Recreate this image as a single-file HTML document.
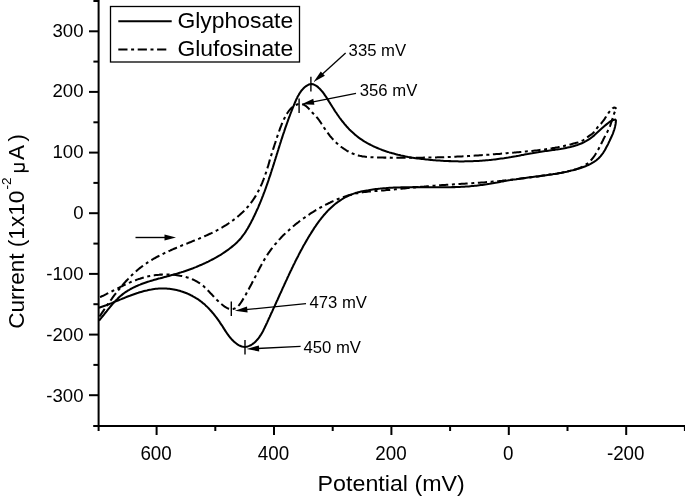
<!DOCTYPE html>
<html><head><meta charset="utf-8"><title>Cyclic voltammogram</title>
<style>
html,body{margin:0;padding:0;background:#fff;}
body{width:685px;height:499px;overflow:hidden;}
svg{display:block;filter:grayscale(1);}
text{font-family:"Liberation Sans",sans-serif;fill:#000;}
</style></head><body>
<svg width="685" height="499" viewBox="0 0 685 499">
<rect width="685" height="499" fill="#fff"/>
<g stroke="#000" stroke-width="2" fill="none">
<line x1="98.6" x2="98.6" y1="0" y2="427"/>
<line x1="93.2" x2="685" y1="425.9" y2="425.9"/>
<line x1="89" x2="98.6" y1="395.2" y2="395.2"/><line x1="93.4" x2="98.6" y1="364.9" y2="364.9"/><line x1="89" x2="98.6" y1="334.6" y2="334.6"/><line x1="93.4" x2="98.6" y1="304.2" y2="304.2"/><line x1="89" x2="98.6" y1="273.9" y2="273.9"/><line x1="93.4" x2="98.6" y1="243.6" y2="243.6"/><line x1="89" x2="98.6" y1="213.2" y2="213.2"/><line x1="93.4" x2="98.6" y1="182.9" y2="182.9"/><line x1="89" x2="98.6" y1="152.6" y2="152.6"/><line x1="93.4" x2="98.6" y1="122.3" y2="122.3"/><line x1="89" x2="98.6" y1="91.9" y2="91.9"/><line x1="93.4" x2="98.6" y1="61.6" y2="61.6"/><line x1="89" x2="98.6" y1="31.3" y2="31.3"/><line x1="93.4" x2="98.6" y1="1.0" y2="1.0"/><line y1="426" y2="431" x1="684.9" x2="684.9"/><line y1="426" y2="435" x1="626.2" x2="626.2"/><line y1="426" y2="431" x1="567.5" x2="567.5"/><line y1="426" y2="435" x1="508.8" x2="508.8"/><line y1="426" y2="431" x1="450.1" x2="450.1"/><line y1="426" y2="435" x1="391.4" x2="391.4"/><line y1="426" y2="431" x1="332.7" x2="332.7"/><line y1="426" y2="435" x1="274.0" x2="274.0"/><line y1="426" y2="431" x1="215.3" x2="215.3"/><line y1="426" y2="435" x1="156.6" x2="156.6"/><line y1="426" y2="431" x1="98.6" x2="98.6"/>
</g>
<g font-size="18.6"><text x="83.5" y="36.6" text-anchor="end">300</text><text x="83.5" y="97.4" text-anchor="end">200</text><text x="83.5" y="158.2" text-anchor="end">100</text><text x="83.5" y="219.1" text-anchor="end">0</text><text x="83.5" y="279.9" text-anchor="end">-100</text><text x="83.5" y="340.7" text-anchor="end">-200</text><text x="83.5" y="401.5" text-anchor="end">-300</text><g transform="translate(156.1,460.3) scale(0.96,1)"><text font-size="19.6" text-anchor="middle">600</text></g><g transform="translate(273.5,460.3) scale(0.96,1)"><text font-size="19.6" text-anchor="middle">400</text></g><g transform="translate(390.9,460.3) scale(0.96,1)"><text font-size="19.6" text-anchor="middle">200</text></g><g transform="translate(508.3,460.3) scale(0.96,1)"><text font-size="19.6" text-anchor="middle">0</text></g><g transform="translate(625.7,460.3) scale(0.96,1)"><text font-size="19.6" text-anchor="middle">-200</text></g></g>
<g transform="translate(391.2,490.5) scale(1.02,1)"><text font-size="22.8" text-anchor="middle">Potential (mV)</text></g>
<text transform="translate(23.5,328.8) rotate(-90)" font-size="22.6">Current (1x10</text>
<text transform="translate(11.4,189.6) rotate(-90)" font-size="13.6">-2</text>
<g stroke="#000" fill="none" stroke-width="1.7"><path d="M14 171.2H28.7"/><path d="M14 164.2H24.4"/><path d="M20.5 171C25 170.6 25.2 165.2 22.2 164.4" stroke-width="1.5"/></g>
<text transform="translate(23.5,160) rotate(-90)" font-size="22.6">A</text>
<text transform="translate(23.5,141.6) rotate(-90)" font-size="22.6">)</text>
<rect x="110.5" y="6.5" width="189" height="55.5" fill="#fff" stroke="#000" stroke-width="1.3"/>
<line x1="118.3" x2="171.7" y1="21.3" y2="21.3" stroke="#000" stroke-width="2"/>
<line x1="118.3" x2="167" y1="49.5" y2="49.5" stroke="#000" stroke-width="2" stroke-dasharray="9.2 3.6 3 3.6"/>
<g transform="translate(177.4,28.2) scale(1.07,1)"><text font-size="21.4">Glyphosate</text></g>
<g transform="translate(177.4,55.8) scale(1.07,1)"><text font-size="21.4">Glufosinate</text></g>
<g fill="none" stroke="#000" stroke-width="2.05" stroke-linejoin="round">
<path d="M99.0 320.6L100.0 319.5L100.9 318.3L101.9 317.1L102.8 316.0L103.8 314.8L104.7 313.6L105.6 312.5L106.6 311.3L107.5 310.1L108.5 308.9L109.4 307.8L110.4 306.6L111.3 305.5L112.3 304.4L113.3 303.2L114.3 302.1L115.4 301.0L116.4 299.9L117.5 298.9L118.5 297.8L119.6 296.8L120.8 295.8L121.9 294.9L123.1 293.9L124.3 293.0L125.5 292.2L126.8 291.3L128.0 290.5L129.3 289.8L130.6 289.0L131.9 288.3L133.3 287.6L134.6 287.0L136.0 286.3L137.4 285.7L138.7 285.1L140.1 284.6L141.5 284.0L142.9 283.5L144.4 283.0L145.8 282.5L147.2 282.0L148.6 281.6L150.1 281.1L151.5 280.7L152.9 280.3L154.4 279.8L155.8 279.4L157.3 279.0L158.7 278.6L160.2 278.3L161.6 277.9L163.1 277.5L164.5 277.1L166.0 276.7L167.4 276.3L168.9 275.9L170.3 275.5L171.8 275.1L173.2 274.7L174.6 274.3L176.1 273.9L177.5 273.5L179.0 273.0L180.4 272.6L181.8 272.1L183.2 271.7L184.7 271.2L186.1 270.7L187.5 270.2L188.9 269.7L190.3 269.2L191.7 268.7L193.1 268.2L194.5 267.6L195.9 267.1L197.3 266.5L198.7 265.9L200.1 265.3L201.5 264.7L202.8 264.1L204.2 263.5L205.6 262.9L206.9 262.2L208.3 261.6L209.6 260.9L211.0 260.2L212.3 259.5L213.6 258.8L214.9 258.1L216.2 257.4L217.5 256.6L218.8 255.8L220.1 255.1L221.4 254.3L222.6 253.5L223.9 252.6L225.1 251.8L226.4 250.9L227.6 250.1L228.8 249.2L230.0 248.3L231.2 247.4L232.4 246.4L233.5 245.5L234.7 244.5L235.8 243.5L236.9 242.5L237.9 241.4L239.0 240.3L240.0 239.2L241.0 238.1L241.9 236.9L242.8 235.7L243.7 234.5L244.6 233.3L245.4 232.1L246.2 230.8L247.0 229.5L247.8 228.2L248.5 226.9L249.3 225.6L250.0 224.3L250.7 223.0L251.4 221.6L252.1 220.3L252.8 219.0L253.4 217.6L254.1 216.3L254.7 214.9L255.4 213.6L256.0 212.2L256.6 210.8L257.2 209.5L257.9 208.1L258.5 206.7L259.0 205.3L259.6 204.0L260.2 202.6L260.8 201.2L261.3 199.8L261.9 198.4L262.4 197.0L263.0 195.6L263.5 194.2L264.0 192.8L264.6 191.4L265.1 190.0L265.6 188.6L266.1 187.2L266.6 185.7L267.1 184.3L267.6 182.9L268.1 181.5L268.6 180.1L269.0 178.6L269.5 177.2L270.0 175.8L270.5 174.4L270.9 172.9L271.4 171.5L271.8 170.1L272.3 168.7L272.8 167.2L273.2 165.8L273.7 164.4L274.1 162.9L274.6 161.5L275.0 160.1L275.5 158.6L275.9 157.2L276.4 155.8L276.8 154.3L277.3 152.9L277.7 151.5L278.2 150.1L278.6 148.6L279.1 147.2L279.5 145.8L280.0 144.3L280.4 142.9L280.9 141.5L281.3 140.0L281.8 138.6L282.3 137.2L282.7 135.8L283.2 134.3L283.7 132.9L284.2 131.5L284.6 130.1L285.1 128.6L285.6 127.2L286.1 125.8L286.6 124.4L287.1 123.0L287.6 121.6L288.1 120.2L288.6 118.7L289.1 117.3L289.7 115.9L290.2 114.5L290.7 113.1L291.3 111.7L291.8 110.3L292.4 108.9L292.9 107.5L293.5 106.1L294.1 104.8L294.6 103.4L295.2 102.0L295.8 100.6L296.4 99.2L297.1 97.9L297.7 96.5L298.5 95.2L299.2 93.9L300.0 92.7L300.9 91.4L301.8 90.2L302.8 89.1L303.8 88.0L304.9 87.0L306.1 86.1L307.4 85.3L308.7 84.6L310.2 84.2L311.6 84.1L313.1 84.3L314.5 84.9L315.9 85.6L317.1 86.4L318.3 87.4L319.4 88.4L320.4 89.5L321.4 90.6L322.4 91.7L323.3 92.9L324.2 94.1L325.0 95.4L325.9 96.6L326.7 97.8L327.5 99.1L328.3 100.4L329.1 101.7L329.9 102.9L330.7 104.2L331.5 105.5L332.3 106.8L333.1 108.0L333.9 109.3L334.7 110.6L335.5 111.8L336.4 113.0L337.2 114.3L338.1 115.5L338.9 116.7L339.8 118.0L340.7 119.2L341.6 120.4L342.5 121.5L343.5 122.7L344.4 123.9L345.4 125.0L346.4 126.2L347.4 127.3L348.4 128.4L349.4 129.5L350.5 130.5L351.6 131.6L352.7 132.6L353.8 133.6L354.9 134.6L356.1 135.5L357.3 136.5L358.4 137.4L359.7 138.3L360.9 139.1L362.1 139.9L363.4 140.8L364.7 141.6L366.0 142.3L367.3 143.1L368.6 143.8L369.9 144.5L371.2 145.2L372.6 145.9L373.9 146.5L375.3 147.1L376.7 147.7L378.0 148.3L379.4 148.9L380.8 149.4L382.2 150.0L383.6 150.5L385.1 151.0L386.5 151.5L387.9 151.9L389.3 152.4L390.8 152.8L392.2 153.2L393.7 153.6L395.1 154.0L396.6 154.4L398.0 154.8L399.5 155.1L400.9 155.5L402.4 155.8L403.9 156.1L405.3 156.4L406.8 156.7L408.3 157.0L409.8 157.2L411.3 157.5L412.7 157.7L414.2 157.9L415.7 158.2L417.2 158.4L418.7 158.6L420.2 158.8L421.6 159.0L423.1 159.1L424.6 159.3L426.1 159.5L427.6 159.6L429.1 159.8L430.6 159.9L432.1 160.0L433.6 160.2L435.1 160.3L436.6 160.4L438.1 160.5L439.6 160.6L441.1 160.7L442.6 160.8L444.1 160.9L445.6 161.0L447.1 161.0L448.6 161.1L450.1 161.1L451.6 161.2L453.1 161.2L454.6 161.3L456.1 161.3L457.6 161.3L459.1 161.4L460.6 161.4L462.1 161.4L463.6 161.4L465.1 161.3L466.6 161.3L468.1 161.3L469.6 161.3L471.1 161.2L472.6 161.2L474.1 161.1L475.6 161.0L477.1 161.0L478.6 160.9L480.1 160.8L481.6 160.7L483.1 160.6L484.6 160.5L486.1 160.3L487.6 160.2L489.0 160.1L490.5 159.9L492.0 159.7L493.5 159.6L495.0 159.4L496.5 159.2L498.0 159.0L499.5 158.8L501.0 158.6L502.4 158.4L503.9 158.2L505.4 157.9L506.9 157.7L508.4 157.5L509.9 157.2L511.3 157.0L512.8 156.7L514.3 156.4L515.8 156.2L517.2 155.9L518.7 155.7L520.2 155.4L521.7 155.1L523.2 154.9L524.6 154.6L526.1 154.3L527.6 154.1L529.1 153.8L530.5 153.5L532.0 153.3L533.5 153.0L535.0 152.8L536.5 152.5L537.9 152.3L539.4 152.0L540.9 151.8L542.4 151.5L543.9 151.3L545.3 151.1L546.8 150.9L548.3 150.7L549.8 150.5L551.3 150.3L552.8 150.1L554.3 149.9L555.8 149.6L557.2 149.4L558.7 149.2L560.2 149.0L561.7 148.7L563.2 148.5L564.6 148.2L566.1 147.9L567.6 147.6L569.1 147.3L570.5 147.0L572.0 146.6L573.4 146.2L574.9 145.8L576.3 145.3L577.7 144.9L579.1 144.3L580.5 143.8L581.9 143.2L583.3 142.6L584.6 141.9L585.9 141.2L587.2 140.4L588.5 139.6L589.7 138.8L591.0 137.9L592.2 137.0L593.3 136.1L594.5 135.1L595.6 134.1L596.7 133.1L597.8 132.1L598.9 131.1L600.0 130.1L601.1 129.1L602.2 128.1L603.4 127.0L604.5 126.0L605.6 125.1L606.8 124.1L607.9 123.2L609.1 122.3L610.4 121.4L611.7 120.7L613.1 120.1L614.5 119.7L616.0 119.5"/>
<path d="M616.0 119.5L615.9 121.0L615.8 122.5L615.6 124.0L615.3 125.5L615.0 126.9L614.6 128.4L614.2 129.8L613.7 131.2L613.2 132.7L612.7 134.1L612.1 135.4L611.5 136.8L610.8 138.2L610.2 139.5L609.6 140.9L608.9 142.3L608.3 143.6L607.6 145.0L606.9 146.3L606.2 147.6L605.5 148.9L604.8 150.2L604.0 151.5L603.2 152.8L602.3 154.0L601.4 155.2L600.5 156.4L599.4 157.5L598.4 158.5L597.2 159.5L596.1 160.5L594.8 161.3L593.6 162.2L592.3 162.9L591.0 163.7L589.7 164.4L588.3 165.0L586.9 165.6L585.5 166.2L584.1 166.7L582.7 167.2L581.3 167.7L579.9 168.2L578.4 168.6L577.0 169.1L575.6 169.5L574.1 169.9L572.7 170.3L571.2 170.6L569.7 171.0L568.3 171.3L566.8 171.7L565.4 172.0L563.9 172.3L562.4 172.6L560.9 172.9L559.5 173.1L558.0 173.4L556.5 173.7L555.0 173.9L553.5 174.1L552.0 174.4L550.6 174.6L549.1 174.8L547.6 175.0L546.1 175.2L544.6 175.4L543.1 175.6L541.6 175.8L540.1 176.0L538.7 176.2L537.2 176.4L535.7 176.6L534.2 176.8L532.7 177.0L531.2 177.1L529.7 177.3L528.2 177.5L526.7 177.7L525.3 177.9L523.8 178.1L522.3 178.3L520.8 178.5L519.3 178.7L517.8 178.9L516.3 179.2L514.8 179.4L513.4 179.6L511.9 179.8L510.4 180.1L508.9 180.3L507.4 180.6L505.9 180.8L504.5 181.1L503.0 181.4L501.5 181.6L500.0 181.9L498.6 182.2L497.1 182.5L495.6 182.7L494.1 183.0L492.7 183.3L491.2 183.5L489.7 183.8L488.2 184.0L486.7 184.3L485.2 184.5L483.8 184.7L482.3 184.9L480.8 185.1L479.3 185.3L477.8 185.5L476.3 185.7L474.8 185.8L473.3 186.0L471.8 186.1L470.3 186.2L468.8 186.4L467.3 186.5L465.8 186.6L464.3 186.7L462.8 186.7L461.3 186.8L459.8 186.9L458.3 186.9L456.8 187.0L455.3 187.1L453.8 187.1L452.3 187.1L450.8 187.2L449.3 187.2L447.8 187.2L446.3 187.2L444.8 187.2L443.3 187.2L441.8 187.3L440.3 187.3L438.8 187.3L437.3 187.3L435.8 187.2L434.3 187.2L432.8 187.2L431.3 187.2L429.8 187.2L428.3 187.2L426.8 187.2L425.3 187.2L423.8 187.2L422.3 187.2L420.8 187.2L419.3 187.2L417.8 187.1L416.3 187.1L414.8 187.1L413.3 187.1L411.8 187.2L410.3 187.2L408.8 187.2L407.3 187.2L405.8 187.2L404.3 187.2L402.8 187.3L401.3 187.3L399.8 187.4L398.3 187.4L396.8 187.5L395.3 187.5L393.8 187.6L392.3 187.7L390.8 187.8L389.3 187.8L387.8 187.9L386.3 188.1L384.8 188.2L383.3 188.3L381.8 188.4L380.3 188.6L378.8 188.7L377.3 188.9L375.8 189.1L374.3 189.3L372.8 189.5L371.4 189.7L369.9 189.9L368.4 190.2L366.9 190.4L365.4 190.7L364.0 191.0L362.5 191.3L361.0 191.6L359.6 191.9L358.1 192.3L356.7 192.7L355.2 193.1L353.8 193.6L352.4 194.1L351.0 194.7L349.6 195.2L348.2 195.9L346.9 196.5L345.5 197.2L344.2 197.9L342.9 198.7L341.6 199.5L340.4 200.3L339.1 201.1L337.9 202.0L336.7 202.9L335.5 203.8L334.3 204.7L333.2 205.7L332.1 206.7L331.0 207.7L329.9 208.7L328.8 209.8L327.7 210.9L326.7 212.0L325.7 213.1L324.7 214.2L323.7 215.3L322.8 216.5L321.8 217.6L320.9 218.8L320.0 220.0L319.1 221.2L318.2 222.4L317.3 223.6L316.4 224.9L315.6 226.1L314.7 227.3L313.9 228.6L313.1 229.9L312.3 231.1L311.5 232.4L310.7 233.7L309.9 234.9L309.1 236.2L308.3 237.5L307.6 238.8L306.8 240.1L306.1 241.4L305.3 242.7L304.6 244.0L303.8 245.3L303.1 246.6L302.4 247.9L301.7 249.3L300.9 250.6L300.2 251.9L299.5 253.2L298.8 254.6L298.2 255.9L297.5 257.2L296.8 258.6L296.1 259.9L295.4 261.3L294.8 262.6L294.1 264.0L293.4 265.3L292.8 266.7L292.1 268.0L291.5 269.4L290.8 270.7L290.2 272.1L289.5 273.4L288.9 274.8L288.3 276.1L287.6 277.5L287.0 278.9L286.4 280.2L285.7 281.6L285.1 283.0L284.5 284.3L283.9 285.7L283.2 287.1L282.6 288.4L282.0 289.8L281.4 291.2L280.8 292.5L280.1 293.9L279.5 295.3L278.9 296.6L278.3 298.0L277.7 299.4L277.0 300.7L276.4 302.1L275.8 303.5L275.2 304.8L274.6 306.2L273.9 307.6L273.3 308.9L272.7 310.3L272.1 311.7L271.4 313.0L270.8 314.4L270.2 315.8L269.6 317.1L268.9 318.5L268.3 319.9L267.7 321.2L267.1 322.6L266.4 324.0L265.8 325.3L265.1 326.7L264.5 328.0L263.8 329.4L263.2 330.7L262.5 332.0L261.7 333.4L261.0 334.6L260.1 335.9L259.3 337.1L258.4 338.3L257.4 339.5L256.4 340.6L255.4 341.7L254.3 342.7L253.1 343.6L251.9 344.5L250.6 345.3L249.2 345.9L247.8 346.4L246.3 346.8L244.9 346.9L243.4 346.8L241.9 346.5L240.5 346.0L239.1 345.3L237.8 344.6L236.6 343.7L235.4 342.8L234.2 341.9L233.1 340.8L232.1 339.8L231.1 338.6L230.1 337.5L229.2 336.3L228.3 335.1L227.4 333.9L226.6 332.7L225.7 331.4L224.9 330.1L224.1 328.9L223.3 327.6L222.5 326.3L221.7 325.1L220.8 323.8L220.0 322.6L219.2 321.3L218.3 320.1L217.4 318.9L216.5 317.7L215.6 316.5L214.7 315.3L213.8 314.1L212.8 313.0L211.8 311.8L210.8 310.7L209.8 309.6L208.8 308.5L207.7 307.4L206.7 306.4L205.6 305.4L204.5 304.3L203.3 303.4L202.2 302.4L201.0 301.5L199.8 300.6L198.6 299.7L197.3 298.9L196.0 298.1L194.8 297.3L193.4 296.6L192.1 295.8L190.8 295.2L189.4 294.5L188.1 293.9L186.7 293.3L185.3 292.7L183.9 292.2L182.5 291.7L181.0 291.3L179.6 290.8L178.2 290.4L176.7 290.1L175.2 289.8L173.8 289.5L172.3 289.2L170.8 289.0L169.3 288.8L167.8 288.7L166.3 288.5L164.8 288.5L163.3 288.4L161.8 288.4L160.3 288.5L158.8 288.6L157.3 288.7L155.8 288.8L154.3 289.0L152.8 289.2L151.4 289.5L149.9 289.7L148.4 290.0L146.9 290.4L145.5 290.7L144.0 291.1L142.6 291.5L141.1 291.9L139.7 292.3L138.3 292.8L136.8 293.2L135.4 293.7L134.0 294.2L132.6 294.7L131.2 295.2L129.8 295.8L128.4 296.3L127.0 296.8L125.6 297.4L124.2 298.0L122.8 298.5L121.4 299.1L120.0 299.6L118.6 300.2L117.2 300.8L115.8 301.4L114.4 301.9L113.1 302.5L111.7 303.1L110.3 303.6L108.9 304.2L107.5 304.7L106.1 305.3L104.7 305.8L103.3 306.3L101.8 306.8L100.4 307.3L99.0 307.8"/>
<path d="M99.0 317.4L99.8 316.1L100.7 314.9L101.5 313.6L102.3 312.4L103.2 311.1L104.0 309.9L104.9 308.7L105.7 307.4L106.6 306.2L107.4 304.9L108.3 303.7L109.1 302.5L110.0 301.3L110.9 300.0L111.8 298.8L112.6 297.6L113.5 296.4L114.4 295.2L115.3 294.0L116.3 292.8L117.2 291.6L118.1 290.4L119.1 289.3L120.0 288.1L121.0 286.9L121.9 285.8L122.9 284.6L123.9 283.5L124.9 282.4L125.9 281.3L126.9 280.2L128.0 279.1L129.0 278.0L130.1 276.9L131.1 275.9L132.2 274.8L133.3 273.8L134.4 272.8L135.5 271.8L136.7 270.8L137.8 269.8L139.0 268.8L140.1 267.9L141.3 267.0L142.5 266.1L143.7 265.2L144.9 264.3L146.2 263.5L147.4 262.6L148.7 261.8L150.0 261.0L151.2 260.2L152.5 259.5L153.8 258.7L155.1 258.0L156.5 257.2L157.8 256.5L159.1 255.8L160.5 255.1L161.8 254.5L163.1 253.8L164.5 253.1L165.9 252.5L167.2 251.9L168.6 251.2L170.0 250.6L171.3 250.0L172.7 249.4L174.1 248.8L175.5 248.2L176.9 247.6L178.2 247.1L179.6 246.5L181.0 245.9L182.4 245.3L183.8 244.8L185.2 244.2L186.6 243.7L188.0 243.1L189.4 242.5L190.8 242.0L192.2 241.4L193.6 240.8L195.0 240.3L196.3 239.7L197.7 239.1L199.1 238.6L200.5 238.0L201.9 237.4L203.3 236.8L204.6 236.2L206.0 235.6L207.4 235.0L208.8 234.3L210.1 233.7L211.5 233.1L212.8 232.4L214.2 231.7L215.5 231.1L216.9 230.4L218.2 229.7L219.5 228.9L220.8 228.2L222.1 227.5L223.4 226.7L224.7 225.9L226.0 225.1L227.2 224.3L228.5 223.5L229.8 222.7L231.0 221.8L232.2 220.9L233.4 220.0L234.6 219.1L235.8 218.2L237.0 217.3L238.1 216.3L239.3 215.3L240.4 214.3L241.5 213.3L242.6 212.3L243.7 211.2L244.7 210.1L245.7 209.0L246.8 207.9L247.8 206.8L248.7 205.7L249.7 204.5L250.6 203.3L251.5 202.1L252.4 200.9L253.2 199.7L254.1 198.4L254.9 197.1L255.7 195.9L256.4 194.6L257.2 193.3L257.9 191.9L258.6 190.6L259.3 189.3L259.9 187.9L260.6 186.6L261.2 185.2L261.8 183.8L262.4 182.4L262.9 181.0L263.5 179.6L264.0 178.2L264.6 176.8L265.1 175.4L265.5 174.0L266.0 172.6L266.5 171.1L266.9 169.7L267.4 168.3L267.8 166.8L268.3 165.4L268.7 164.0L269.1 162.5L269.5 161.1L269.9 159.6L270.4 158.2L270.8 156.7L271.2 155.3L271.7 153.9L272.1 152.4L272.6 151.0L273.0 149.6L273.5 148.1L274.0 146.7L274.4 145.3L274.9 143.8L275.4 142.4L275.8 141.0L276.3 139.6L276.8 138.1L277.2 136.7L277.7 135.3L278.2 133.9L278.7 132.4L279.2 131.0L279.7 129.6L280.2 128.2L280.7 126.8L281.3 125.4L281.8 124.0L282.4 122.6L283.0 121.2L283.6 119.9L284.3 118.5L285.0 117.2L285.7 115.8L286.4 114.5L287.2 113.3L288.1 112.0L288.9 110.8L289.9 109.6L290.9 108.5L292.0 107.5L293.2 106.6L294.4 105.7L295.8 105.0L297.1 104.5L298.6 104.1L300.1 103.9L301.6 104.0L303.0 104.4L304.4 105.0L305.6 105.8L306.8 106.8L307.9 107.8L309.0 108.9L310.0 110.0L311.0 111.1L312.0 112.2L313.0 113.3L314.1 114.4L315.1 115.5L316.2 116.6L317.2 117.7L318.1 118.8L319.0 120.0L319.9 121.3L320.7 122.5L321.5 123.8L322.3 125.0L323.2 126.3L324.0 127.6L324.8 128.8L325.6 130.1L326.5 131.3L327.4 132.5L328.3 133.7L329.2 134.9L330.1 136.1L331.1 137.2L332.1 138.4L333.1 139.5L334.1 140.6L335.2 141.6L336.3 142.7L337.4 143.7L338.5 144.7L339.7 145.6L340.9 146.6L342.1 147.5L343.3 148.3L344.5 149.2L345.8 150.0L347.1 150.8L348.4 151.5L349.7 152.2L351.1 152.8L352.5 153.5L353.9 154.0L355.3 154.5L356.7 155.0L358.1 155.4L359.6 155.8L361.1 156.1L362.5 156.4L364.0 156.6L365.5 156.8L367.0 157.0L368.5 157.1L370.0 157.2L371.5 157.3L373.0 157.3L374.5 157.4L376.0 157.4L377.5 157.4L379.0 157.5L380.5 157.5L382.0 157.5L383.5 157.6L385.0 157.6L386.5 157.6L388.0 157.6L389.5 157.6L391.0 157.7L392.6 157.7L394.1 157.7L395.6 157.7L397.1 157.7L398.6 157.7L400.1 157.7L401.6 157.7L403.1 157.8L404.6 157.8L406.1 157.8L407.6 157.8L409.1 157.8L410.6 157.8L412.1 157.7L413.6 157.7L415.1 157.7L416.6 157.7L418.1 157.7L419.6 157.7L421.1 157.7L422.6 157.7L424.1 157.6L425.6 157.6L427.1 157.6L428.6 157.6L430.1 157.5L431.6 157.5L433.1 157.5L434.6 157.4L436.1 157.4L437.6 157.3L439.1 157.3L440.6 157.3L442.1 157.2L443.6 157.2L445.1 157.1L446.7 157.1L448.2 157.0L449.7 156.9L451.2 156.9L452.7 156.8L454.2 156.7L455.7 156.7L457.2 156.6L458.7 156.5L460.2 156.5L461.7 156.4L463.2 156.3L464.7 156.2L466.2 156.1L467.7 156.1L469.2 156.0L470.7 155.9L472.2 155.8L473.7 155.7L475.2 155.6L476.7 155.5L478.2 155.4L479.7 155.3L481.2 155.2L482.7 155.1L484.2 155.0L485.7 154.9L487.2 154.8L488.7 154.7L490.2 154.6L491.7 154.4L493.2 154.3L494.7 154.2L496.2 154.1L497.7 154.0L499.2 153.9L500.7 153.7L502.1 153.6L503.6 153.5L505.1 153.4L506.6 153.2L508.1 153.1L509.6 153.0L511.1 152.8L512.6 152.7L514.1 152.6L515.6 152.4L517.1 152.3L518.6 152.2L520.1 152.0L521.6 151.9L523.1 151.8L524.6 151.6L526.1 151.5L527.6 151.3L529.1 151.2L530.6 151.0L532.1 150.9L533.6 150.7L535.1 150.5L536.6 150.4L538.1 150.2L539.6 150.0L541.0 149.8L542.5 149.7L544.0 149.5L545.5 149.3L547.0 149.0L548.5 148.8L550.0 148.6L551.5 148.4L552.9 148.1L554.4 147.9L555.9 147.6L557.4 147.4L558.9 147.1L560.3 146.8L561.8 146.5L563.3 146.2L564.7 145.8L566.2 145.5L567.7 145.2L569.1 144.8L570.6 144.4L572.0 144.0L573.5 143.6L574.9 143.2L576.4 142.8L577.8 142.4L579.2 141.9L580.7 141.4L582.0 140.8L583.4 140.1L584.6 139.3L585.8 138.4L587.0 137.5L588.2 136.6L589.5 135.7L590.7 134.9L591.9 134.0L593.1 133.0L594.1 131.9L595.0 130.7L595.9 129.5L596.8 128.3L597.7 127.1L598.8 126.0L599.8 125.0L600.9 123.9L601.8 122.7L602.7 121.5L603.6 120.3L604.5 119.1L605.3 117.8L606.1 116.6L606.9 115.3L607.8 114.1L608.6 112.8L609.5 111.6L610.5 110.5L611.5 109.4L612.6 108.3L613.9 107.6L615.3 107.8L616.5 108.8" stroke-dasharray="9.2 3.55 3 3.58" stroke-dashoffset="18.3"/>
<path d="M616.5 108.8L615.7 110.1L615.1 111.4L614.4 112.8L613.9 114.2L613.4 115.6L612.9 117.0L612.5 118.5L612.0 119.9L611.6 121.4L611.1 122.8L610.7 124.2L610.2 125.6L609.6 127.0L609.0 128.4L608.4 129.8L607.7 131.1L607.0 132.5L606.3 133.8L605.6 135.1L604.9 136.4L604.2 137.8L603.5 139.1L602.9 140.5L602.2 141.8L601.5 143.2L600.9 144.5L600.2 145.9L599.5 147.2L598.8 148.5L598.1 149.9L597.4 151.2L596.6 152.5L595.8 153.7L595.0 155.0L594.2 156.2L593.3 157.5L592.3 158.6L591.4 159.8L590.3 160.9L589.3 161.9L588.1 162.9L587.0 163.9L585.7 164.7L584.5 165.5L583.2 166.3L581.8 167.0L580.4 167.6L579.1 168.2L577.6 168.7L576.2 169.2L574.8 169.6L573.3 170.0L571.9 170.4L570.4 170.8L569.0 171.1L567.5 171.5L566.0 171.8L564.6 172.1L563.1 172.4L561.6 172.7L560.1 172.9L558.7 173.2L557.2 173.5L555.7 173.7L554.2 173.9L552.7 174.2L551.2 174.4L549.7 174.6L548.3 174.8L546.8 175.1L545.3 175.3L543.8 175.5L542.3 175.7L540.8 175.9L539.3 176.2L537.9 176.4L536.4 176.6L534.9 176.8L533.4 177.0L531.9 177.2L530.4 177.4L528.9 177.6L527.4 177.8L525.9 178.0L524.4 178.2L523.0 178.4L521.5 178.6L520.0 178.8L518.5 179.0L517.0 179.1L515.5 179.3L514.0 179.5L512.5 179.7L511.0 179.8L509.5 180.0L508.0 180.2L506.5 180.3L505.0 180.5L503.5 180.6L502.0 180.8L500.5 180.9L499.0 181.1L497.6 181.2L496.1 181.4L494.6 181.5L493.1 181.6L491.6 181.8L490.1 181.9L488.6 182.0L487.1 182.1L485.6 182.2L484.1 182.4L482.6 182.5L481.1 182.6L479.6 182.7L478.1 182.8L476.6 182.9L475.1 183.0L473.6 183.1L472.1 183.2L470.6 183.3L469.1 183.4L467.6 183.5L466.1 183.6L464.6 183.7L463.1 183.8L461.6 183.8L460.1 183.9L458.6 184.0L457.1 184.1L455.6 184.2L454.1 184.3L452.6 184.4L451.1 184.5L449.6 184.6L448.1 184.7L446.6 184.8L445.1 184.9L443.6 185.0L442.1 185.1L440.6 185.2L439.1 185.3L437.6 185.4L436.1 185.6L434.6 185.7L433.1 185.8L431.6 185.9L430.1 186.0L428.6 186.2L427.1 186.3L425.6 186.4L424.1 186.6L422.6 186.7L421.1 186.8L419.6 187.0L418.1 187.1L416.6 187.3L415.1 187.4L413.6 187.6L412.1 187.7L410.6 187.8L409.1 188.0L407.6 188.1L406.1 188.3L404.6 188.4L403.1 188.6L401.6 188.7L400.1 188.9L398.6 189.0L397.1 189.2L395.6 189.3L394.2 189.4L392.7 189.6L391.2 189.7L389.7 189.9L388.2 190.0L386.7 190.1L385.2 190.3L383.7 190.4L382.2 190.5L380.7 190.6L379.2 190.7L377.7 190.9L376.2 191.0L374.7 191.1L373.2 191.2L371.7 191.4L370.2 191.5L368.7 191.6L367.2 191.8L365.7 192.0L364.2 192.1L362.7 192.3L361.2 192.6L359.7 192.8L358.3 193.1L356.8 193.3L355.3 193.6L353.8 194.0L352.4 194.3L350.9 194.7L349.5 195.1L348.0 195.5L346.6 196.0L345.2 196.4L343.8 196.9L342.3 197.4L340.9 198.0L339.5 198.5L338.1 199.0L336.7 199.6L335.3 200.2L334.0 200.8L332.6 201.4L331.2 202.0L329.9 202.7L328.5 203.3L327.2 204.0L325.8 204.7L324.5 205.4L323.2 206.1L321.8 206.8L320.5 207.5L319.2 208.2L317.9 209.0L316.6 209.8L315.3 210.5L314.0 211.3L312.8 212.1L311.5 212.9L310.2 213.7L309.0 214.6L307.7 215.4L306.5 216.2L305.3 217.1L304.0 218.0L302.8 218.9L301.6 219.7L300.4 220.6L299.2 221.5L298.0 222.5L296.8 223.4L295.6 224.3L294.5 225.3L293.3 226.2L292.2 227.2L291.0 228.2L289.9 229.2L288.8 230.2L287.6 231.2L286.5 232.2L285.5 233.2L284.4 234.3L283.3 235.3L282.2 236.4L281.2 237.5L280.2 238.6L279.1 239.7L278.1 240.8L277.1 241.9L276.2 243.1L275.2 244.2L274.2 245.4L273.3 246.5L272.4 247.7L271.5 248.9L270.6 250.1L269.7 251.4L268.8 252.6L268.0 253.8L267.2 255.1L266.4 256.4L265.6 257.6L264.8 258.9L264.0 260.2L263.3 261.5L262.5 262.8L261.8 264.1L261.1 265.5L260.4 266.8L259.7 268.1L259.0 269.4L258.3 270.8L257.6 272.1L256.9 273.5L256.2 274.8L255.6 276.1L254.9 277.5L254.2 278.8L253.5 280.2L252.8 281.5L252.1 282.8L251.4 284.2L250.7 285.5L250.0 286.8L249.3 288.1L248.6 289.5L247.9 290.8L247.1 292.1L246.4 293.4L245.7 294.7L244.9 296.0L244.2 297.3L243.4 298.6L242.6 299.9L241.9 301.2L241.0 302.5L240.2 303.7L239.3 304.9L238.3 306.0L237.1 307.0L235.9 307.9L234.6 308.6L233.2 309.0L231.7 309.2L230.2 309.1L228.7 308.7L227.3 308.1L226.0 307.4L224.7 306.6L223.5 305.7L222.3 304.8L221.1 303.9L220.0 302.9L218.9 301.9L217.8 300.8L216.7 299.8L215.7 298.7L214.6 297.6L213.6 296.5L212.6 295.4L211.6 294.3L210.5 293.2L209.5 292.1L208.5 291.0L207.4 289.9L206.4 288.9L205.3 287.8L204.2 286.8L203.1 285.8L201.9 284.9L200.7 283.9L199.5 283.1L198.2 282.3L196.9 281.5L195.6 280.8L194.3 280.1L192.9 279.5L191.5 278.9L190.1 278.3L188.7 277.8L187.3 277.4L185.8 277.0L184.4 276.6L182.9 276.2L181.4 275.9L180.0 275.7L178.5 275.4L177.0 275.2L175.5 275.0L174.0 274.8L172.5 274.7L171.0 274.6L169.5 274.5L168.0 274.5L166.5 274.5L165.0 274.5L163.5 274.5L162.0 274.6L160.5 274.6L159.0 274.8L157.5 274.9L156.0 275.1L154.5 275.3L153.0 275.5L151.5 275.7L150.1 276.0L148.6 276.3L147.1 276.6L145.7 277.0L144.2 277.4L142.8 277.8L141.3 278.2L139.9 278.7L138.5 279.1L137.0 279.6L135.6 280.2L134.2 280.7L132.8 281.3L131.4 281.8L130.1 282.4L128.7 283.0L127.3 283.7L126.0 284.3L124.6 284.9L123.2 285.6L121.9 286.2L120.5 286.9L119.2 287.6L117.9 288.3L116.5 288.9L115.2 289.6L113.8 290.3L112.5 291.0L111.2 291.7L109.8 292.4L108.5 293.0L107.1 293.7L105.8 294.4L104.4 295.1L103.1 295.7L101.7 296.3L100.4 297.0L99.0 297.6" stroke-dasharray="9.2 3.6 3 3.63" stroke-dashoffset="9.4"/>
</g>
<g stroke="#000" stroke-width="1.4"><line x1="310.9" x2="310.9" y1="76.8" y2="91.5"/><line x1="299.1" x2="299.1" y1="98.5" y2="112.9"/><line x1="231.3" x2="231.3" y1="301.6" y2="316"/><line x1="245" x2="245" y1="340" y2="354.6"/></g>
<line x1="345.6" y1="52.9" x2="321.4" y2="74.9" stroke="#000" stroke-width="1.3"/><polygon points="313.6,82.0 320.8,71.4 324.9,75.8" fill="#000"/><line x1="356.0" y1="93.4" x2="311.9" y2="102.2" stroke="#000" stroke-width="1.3"/><polygon points="301.6,104.2 313.3,98.8 314.4,104.7" fill="#000"/><line x1="306.0" y1="303.6" x2="245.3" y2="309.7" stroke="#000" stroke-width="1.3"/><polygon points="234.9,310.8 247.0,306.6 247.6,312.5" fill="#000"/><line x1="300.6" y1="346.4" x2="257.1" y2="348.5" stroke="#000" stroke-width="1.3"/><polygon points="246.6,349.0 258.9,345.4 259.2,351.4" fill="#000"/><line x1="135.5" y1="237.5" x2="166.5" y2="237.5" stroke="#000" stroke-width="1.4"/><polygon points="176.0,237.5 164.5,240.4 164.5,234.6" fill="#000"/>
<g font-size="15.9">
<g transform="translate(348.6,55.6) scale(1.05,1)"><text>335 mV</text></g>
<g transform="translate(359.8,95.5) scale(1.05,1)"><text>356 mV</text></g>
<g transform="translate(309.4,307.7) scale(1.05,1)"><text>473 mV</text></g>
<g transform="translate(303.4,353.3) scale(1.05,1)"><text>450 mV</text></g>
</g>
</svg>
</body></html>
